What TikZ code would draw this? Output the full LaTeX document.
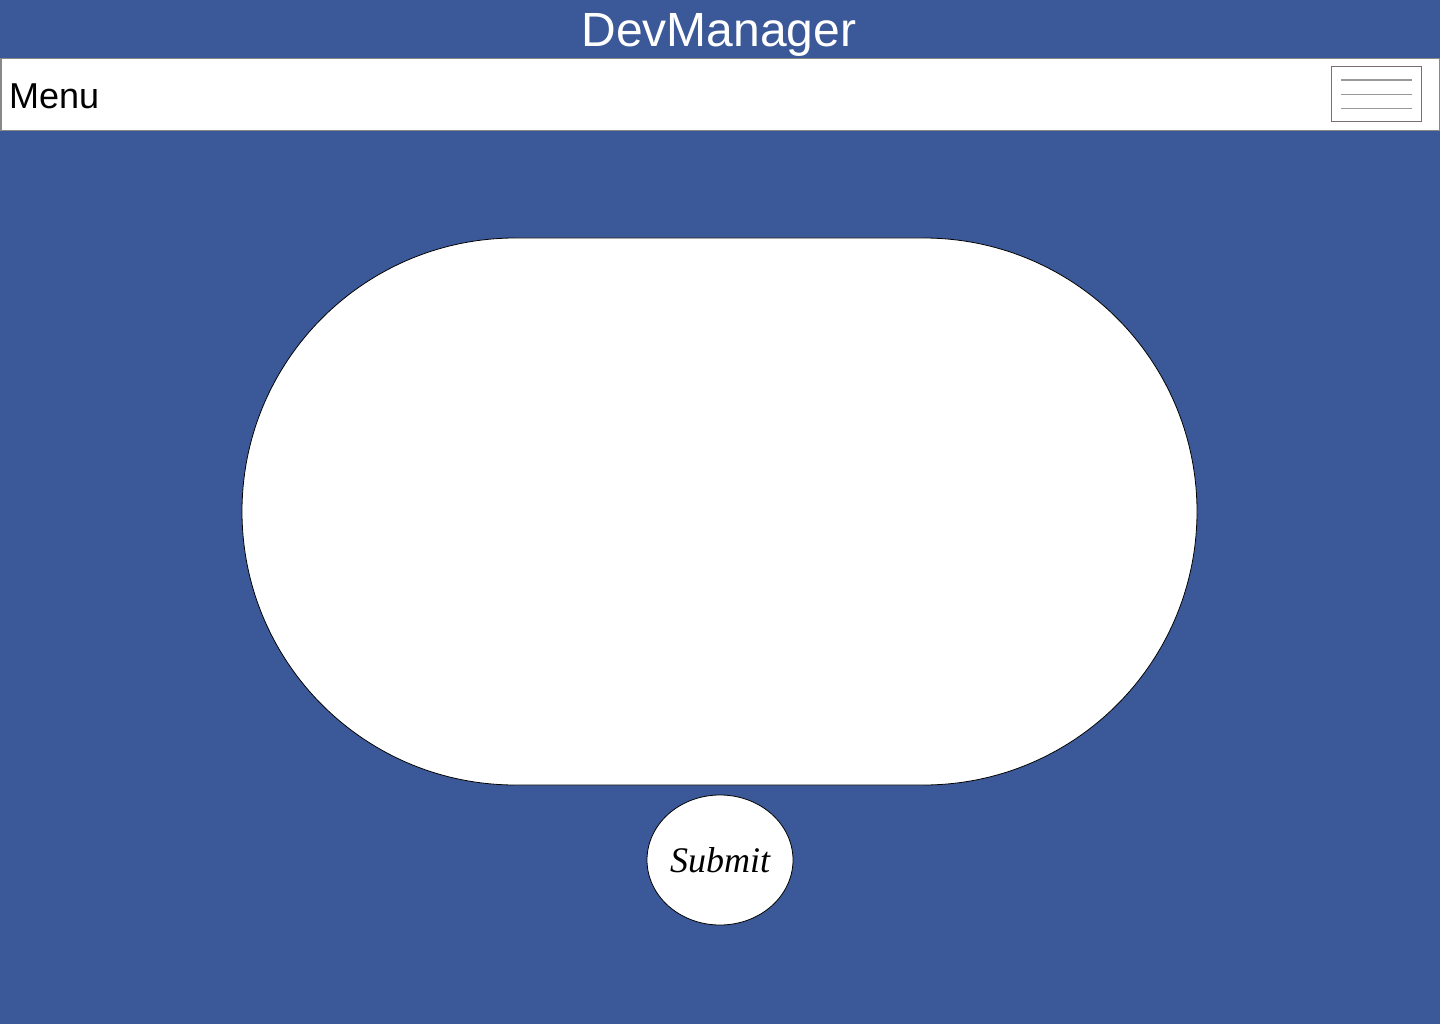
\documentclass[tikz,border=0pt]{standalone}
\usepackage{fontspec}
\setmainfont{Liberation Sans}
\newfontfamily\handfont{Liberation Serif}
\usetikzlibrary{shapes.geometric}
\definecolor{fbblue}{HTML}{3B5998}
\definecolor{barborder}{HTML}{888888}
\definecolor{iconborder}{HTML}{7A6E6E}
\definecolor{iconline}{HTML}{999999}
\begin{document}
\begin{tikzpicture}[x=1pt,y=-1pt,
  iconrule/.style={draw=iconline,line width=1.2pt},
  panel/.style={draw=black,fill=white,line width=0.8pt}]
\useasboundingbox (0,0) rectangle (1440,1024);
\fill[fbblue] (0,0) rectangle (1440,1024);
% title
\node[text=white,font=\fontsize{48}{50}\selectfont,anchor=center] (title) at (719,35) {DevManager};
% menu bar
\draw[draw=barborder,fill=white,line width=1.5pt] (0.75,58.5) rectangle (1439.25,130.5);
\node[anchor=base west,inner sep=0pt,font=\fontsize{36}{38}\selectfont] (menu) at (9,109) {Menu};
% hamburger icon
\node[draw=iconborder,fill=white,line width=1pt,minimum width=90pt,minimum height=55pt,inner sep=0pt] (icon) at (1376,94.5) {};
\draw[iconrule] (1341,80) -- (1412,80);
\draw[iconrule] (1341,94.3) -- (1412,94.3);
\draw[iconrule] (1341,108.3) -- (1412,108.3);
% big stadium panel
\draw[panel,rounded corners=273.5pt] (242,238) rectangle (1197,785);
% submit button
\node[ellipse,draw=black,fill=white,line width=0.8pt,minimum width=146pt,minimum height=130pt,inner sep=0pt,font=\handfont\itshape\fontsize{36}{38}\selectfont] (submit) at (720,860) {Submit};
\end{tikzpicture}
\end{document}
